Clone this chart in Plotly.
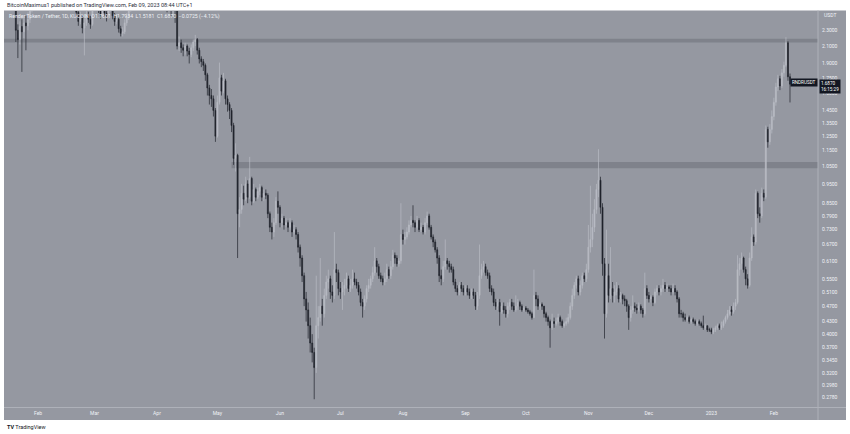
import numpy as np
import pandas as pd
import plotly.graph_objects as go

# ---------------- data (RNDR/USDT, 1D, KuCoin) ----------------
start_date = "2022-01-15"
first_open = 3.50

close = [
    # Jan 15-31 2022
    3.45, 3.40, 3.20, 3.10, 3.00, 2.75, 2.30, 2.18, 2.35, 2.28, 2.40, 2.36, 2.45, 2.62, 2.75, 2.70, 2.85,
    # Feb
    2.95, 2.80, 2.85, 3.05, 3.10, 3.15, 3.25, 3.10, 3.20, 3.05, 2.90, 2.95, 2.88, 3.00, 3.10, 3.00, 2.80, 2.72, 2.75, 2.55,
    2.42, 2.48, 2.33, 2.40, 2.50, 2.45, 2.38, 2.62,
    # Mar
    2.75, 2.68, 2.60, 2.52, 2.58, 2.54, 2.50, 2.60, 2.70, 2.50, 2.42, 2.45, 2.32, 2.26, 2.28, 2.40, 2.48, 2.60, 2.72, 2.65,
    2.78, 2.95, 3.05, 3.15, 3.10, 3.20, 3.35, 3.40, 3.30, 3.25, 3.05,
    # Apr
    3.15, 3.10, 3.20, 3.05, 2.95, 2.70, 2.75, 2.65, 2.70, 2.58, 2.10, 2.14, 2.08, 2.05, 2.10, 2.04, 2.00, 2.08, 2.15, 2.18,
    2.05, 1.95, 1.92, 1.88, 1.78, 1.65, 1.58, 1.55, 1.45, 1.25,
    # May
    1.52, 1.75, 1.62, 1.72, 1.55, 1.50, 1.45, 1.33, 1.10, 1.12, 0.80, 0.82, 0.90, 0.87, 0.95, 0.88, 0.98, 0.86, 0.92, 0.88,
    0.91, 0.93, 0.88, 0.90, 0.89, 0.80, 0.74, 0.72, 0.76, 0.86, 0.83,
    # Jun
    0.76, 0.78, 0.75, 0.76, 0.74, 0.76, 0.72, 0.73, 0.71, 0.66, 0.62, 0.56, 0.49, 0.46, 0.42, 0.38, 0.36, 0.33, 0.42, 0.44,
    0.47, 0.45, 0.50, 0.54, 0.55, 0.51, 0.50, 0.58, 0.57, 0.52,
    # Jul
    0.51, 0.52, 0.53, 0.55, 0.52, 0.53, 0.55, 0.54, 0.53, 0.51, 0.48, 0.47, 0.49, 0.52, 0.53, 0.55, 0.57, 0.61, 0.59, 0.56,
    0.55, 0.54, 0.55, 0.58, 0.56, 0.59, 0.63, 0.62, 0.60, 0.61, 0.71,
    # Aug
    0.69, 0.70, 0.72, 0.75, 0.77, 0.76, 0.74, 0.77, 0.73, 0.74, 0.72, 0.76, 0.79, 0.74, 0.70, 0.68, 0.65, 0.62, 0.56, 0.55,
    0.59, 0.61, 0.60, 0.59, 0.58, 0.54, 0.52, 0.51, 0.53, 0.52, 0.51,
    # Sep
    0.52, 0.51, 0.50, 0.51, 0.50, 0.47, 0.50, 0.56, 0.58, 0.59, 0.57, 0.56, 0.52, 0.51, 0.48, 0.47, 0.48, 0.455, 0.47, 0.46,
    0.45, 0.47, 0.48, 0.47, 0.46, 0.47, 0.48, 0.47, 0.46, 0.465,
    # Oct
    0.46, 0.455, 0.45, 0.44, 0.50, 0.49, 0.47, 0.475, 0.47, 0.45, 0.44, 0.43, 0.415, 0.43, 0.425, 0.43, 0.44, 0.43, 0.42, 0.425,
    0.43, 0.44, 0.47, 0.50, 0.53, 0.55, 0.51, 0.53, 0.56, 0.55, 0.58,
    # Nov
    0.66, 0.69, 0.74, 0.82, 0.92, 0.97, 0.83, 0.60, 0.45, 0.56, 0.50, 0.52, 0.50, 0.51, 0.52, 0.49, 0.50, 0.49, 0.485, 0.47,
    0.44, 0.46, 0.47, 0.465, 0.46, 0.47, 0.46, 0.45, 0.52, 0.50,
    # Dec
    0.49, 0.495, 0.48, 0.51, 0.52, 0.51, 0.52, 0.53, 0.52, 0.525, 0.52, 0.51, 0.52, 0.51, 0.49, 0.45, 0.45, 0.44, 0.435, 0.44,
    0.43, 0.435, 0.43, 0.425, 0.43, 0.425, 0.42, 0.415, 0.42, 0.41, 0.41,
    # Jan 2023
    0.405, 0.41, 0.415, 0.42, 0.415, 0.42, 0.43, 0.44, 0.45, 0.46, 0.455, 0.47, 0.48, 0.58, 0.60, 0.62, 0.58, 0.55, 0.53, 0.62,
    0.70, 0.68, 0.90, 0.80, 0.79, 0.90, 0.88, 1.30, 1.21, 1.30, 1.40,
    # Feb 2023
    1.52, 1.66, 1.74, 1.67, 1.80, 1.88, 2.14, 1.7601, 1.6870,
]

high = [
    3.60, 3.52, 3.44, 3.28, 3.16, 3.05, 2.80, 2.38, 2.42, 2.45, 2.48, 2.50, 2.55, 2.70, 2.82, 2.85, 2.92,
    3.02, 2.98, 2.92, 3.12, 3.20, 3.24, 3.35, 3.30, 3.28, 3.25, 3.08, 3.02, 3.00, 3.06, 3.18, 3.14, 3.02, 2.86, 2.82, 2.78,
    2.60, 2.56, 2.50, 2.46, 2.58, 2.56, 2.50, 2.68,
    2.84, 2.80, 2.72, 2.64, 2.64, 2.62, 2.58, 2.66, 2.76, 2.72, 2.54, 2.50, 2.48, 2.36, 2.34, 2.45, 2.54, 2.66, 2.80, 2.78,
    2.85, 3.02, 3.12, 3.22, 3.22, 3.28, 3.42, 3.50, 3.44, 3.36, 3.28,
    3.20, 3.22, 3.26, 3.22, 3.08, 2.98, 2.82, 2.80, 2.76, 2.74, 2.60, 2.22, 2.18, 2.12, 2.14, 2.12, 2.08, 2.12, 2.18, 2.24,
    2.20, 2.08, 1.98, 1.95, 1.90, 1.80, 1.68, 1.64, 1.58, 1.47,
    1.58, 1.91, 1.78, 1.80, 1.74, 1.58, 1.52, 1.47, 1.35, 1.20, 1.13, 0.88, 0.95, 0.94, 0.99, 0.97, 1.11, 0.99, 0.95, 0.93,
    0.93, 0.95, 0.94, 0.92, 0.92, 0.90, 0.81, 0.76, 0.78, 0.88, 0.91,
    0.84, 0.80, 0.79, 0.78, 0.77, 0.78, 0.77, 0.75, 0.74, 0.72, 0.67, 0.63, 0.57, 0.51, 0.48, 0.44, 0.40, 0.37, 0.56, 0.47,
    0.62, 0.49, 0.52, 0.56, 0.58, 0.56, 0.53, 0.72, 0.60, 0.58,
    0.54, 0.54, 0.55, 0.57, 0.56, 0.55, 0.58, 0.57, 0.55, 0.54, 0.52, 0.49, 0.50, 0.53, 0.55, 0.56, 0.59, 0.66, 0.62, 0.60,
    0.57, 0.56, 0.57, 0.60, 0.59, 0.61, 0.65, 0.64, 0.63, 0.62, 0.85,
    0.73, 0.72, 0.74, 0.77, 0.79, 0.84, 0.77, 0.79, 0.78, 0.76, 0.75, 0.78, 0.81, 0.80, 0.75, 0.71, 0.69, 0.66, 0.63, 0.58,
    0.61, 0.69, 0.62, 0.61, 0.60, 0.59, 0.55, 0.53, 0.54, 0.54, 0.53,
    0.53, 0.53, 0.52, 0.52, 0.52, 0.51, 0.51, 0.67, 0.60, 0.61, 0.60, 0.58, 0.57, 0.53, 0.52, 0.49, 0.49, 0.49, 0.48, 0.48,
    0.47, 0.48, 0.49, 0.49, 0.48, 0.50, 0.49, 0.485, 0.475, 0.47,
    0.47, 0.465, 0.46, 0.455, 0.58, 0.51, 0.50, 0.48, 0.48, 0.47, 0.455, 0.445, 0.435, 0.45, 0.44, 0.44, 0.45, 0.445, 0.435, 0.43,
    0.44, 0.45, 0.48, 0.52, 0.54, 0.56, 0.56, 0.545, 0.57, 0.57, 0.60,
    0.75, 0.94, 0.80, 0.87, 0.95, 1.16, 0.99, 0.85, 0.62, 0.73, 0.60, 0.66, 0.54, 0.53, 0.54, 0.53, 0.51, 0.505, 0.50, 0.49,
    0.475, 0.47, 0.50, 0.48, 0.475, 0.48, 0.475, 0.465, 0.57, 0.53,
    0.51, 0.50, 0.50, 0.52, 0.53, 0.53, 0.53, 0.55, 0.54, 0.535, 0.53, 0.53, 0.535, 0.53, 0.515, 0.495, 0.46, 0.455, 0.45, 0.445,
    0.445, 0.44, 0.44, 0.435, 0.435, 0.435, 0.43, 0.445, 0.425, 0.42, 0.415,
    0.415, 0.415, 0.42, 0.425, 0.425, 0.43, 0.435, 0.445, 0.46, 0.47, 0.47, 0.48, 0.49, 0.63, 0.62, 0.64, 0.625, 0.59, 0.565, 0.64,
    0.74, 0.71, 0.92, 0.91, 0.83, 0.93, 0.92, 1.33, 1.32, 1.34, 1.45,
    1.56, 1.70, 1.78, 1.77, 1.84, 1.92, 2.21, 2.16, 1.7934,
]

low = [
    3.38, 3.32, 3.12, 3.02, 2.92, 2.66, 2.15, 1.96, 2.12, 1.81, 2.20, 2.05, 2.30, 2.40, 2.55, 2.62, 2.64,
    2.80, 2.74, 2.72, 2.82, 3.00, 3.05, 3.10, 3.02, 3.05, 2.98, 2.84, 2.85, 2.80, 2.86, 2.96, 2.92, 2.72, 2.62, 2.66, 2.50,
    2.36, 2.38, 2.26, 1.99, 2.36, 2.40, 2.32, 2.36,
    2.58, 2.62, 2.54, 2.46, 2.48, 2.48, 2.42, 2.46, 2.56, 2.45, 2.36, 2.38, 2.27, 2.22, 2.22, 2.25, 2.36, 2.44, 2.56, 2.60,
    2.62, 2.74, 2.90, 3.00, 3.02, 3.06, 3.16, 3.28, 3.22, 3.18, 3.00,
    3.00, 3.04, 3.05, 2.98, 2.88, 2.55, 2.60, 2.50, 2.48, 2.40, 2.06, 2.04, 2.02, 1.98, 2.00, 1.98, 1.90, 1.97, 2.04, 2.10,
    2.00, 1.90, 1.86, 1.82, 1.72, 1.58, 1.50, 1.48, 1.40, 1.21,
    1.24, 1.50, 1.58, 1.60, 1.50, 1.44, 1.38, 1.28, 1.06, 1.02, 0.62, 0.74, 0.80, 0.84, 0.86, 0.85, 0.87, 0.84, 0.85, 0.86,
    0.87, 0.89, 0.86, 0.86, 0.87, 0.78, 0.72, 0.69, 0.70, 0.75, 0.80,
    0.74, 0.74, 0.73, 0.74, 0.72, 0.73, 0.70, 0.71, 0.69, 0.64, 0.59, 0.54, 0.47, 0.43, 0.39, 0.36, 0.34, 0.275, 0.32, 0.39,
    0.43, 0.42, 0.44, 0.49, 0.52, 0.49, 0.48, 0.49, 0.54, 0.50,
    0.49, 0.46, 0.50, 0.52, 0.51, 0.51, 0.52, 0.53, 0.52, 0.50, 0.47, 0.44, 0.46, 0.48, 0.51, 0.52, 0.54, 0.56, 0.57, 0.55,
    0.54, 0.53, 0.53, 0.54, 0.55, 0.55, 0.58, 0.60, 0.59, 0.59, 0.60,
    0.67, 0.67, 0.69, 0.71, 0.74, 0.74, 0.72, 0.73, 0.72, 0.72, 0.71, 0.71, 0.75, 0.73, 0.69, 0.66, 0.64, 0.60, 0.54, 0.53,
    0.54, 0.58, 0.58, 0.57, 0.57, 0.53, 0.51, 0.50, 0.50, 0.51, 0.50,
    0.50, 0.50, 0.49, 0.49, 0.49, 0.46, 0.46, 0.49, 0.55, 0.57, 0.56, 0.55, 0.51, 0.50, 0.47, 0.46, 0.46, 0.42, 0.45, 0.45,
    0.44, 0.44, 0.46, 0.46, 0.455, 0.455, 0.46, 0.46, 0.455, 0.455,
    0.455, 0.45, 0.445, 0.435, 0.44, 0.47, 0.46, 0.46, 0.46, 0.44, 0.43, 0.42, 0.37, 0.41, 0.415, 0.42, 0.425, 0.42, 0.415, 0.415,
    0.42, 0.425, 0.435, 0.46, 0.49, 0.52, 0.50, 0.50, 0.52, 0.54, 0.54,
    0.57, 0.64, 0.66, 0.72, 0.80, 0.88, 0.80, 0.56, 0.39, 0.44, 0.48, 0.49, 0.48, 0.48, 0.50, 0.48, 0.48, 0.475, 0.47, 0.455,
    0.41, 0.43, 0.45, 0.455, 0.45, 0.455, 0.45, 0.44, 0.445, 0.49,
    0.48, 0.48, 0.47, 0.475, 0.50, 0.50, 0.50, 0.51, 0.51, 0.51, 0.51, 0.50, 0.505, 0.50, 0.48, 0.44, 0.44, 0.43, 0.43, 0.43,
    0.425, 0.425, 0.425, 0.42, 0.42, 0.42, 0.415, 0.41, 0.41, 0.405, 0.405,
    0.40, 0.40, 0.405, 0.41, 0.41, 0.41, 0.415, 0.425, 0.435, 0.445, 0.445, 0.45, 0.46, 0.475, 0.56, 0.58, 0.57, 0.53, 0.52, 0.525,
    0.61, 0.665, 0.67, 0.78, 0.76, 0.78, 0.86, 0.87, 1.17, 1.19, 1.27,
    1.37, 1.49, 1.62, 1.63, 1.65, 1.76, 1.86, 1.72, 1.5181,
]

assert len(close) == len(high) == len(low) == 391, (len(close), len(high), len(low))

# horizontal zones
resistance_zone = (2.145, 2.19)
support_zone = (1.04, 1.078)
support_start = "2022-05-08"

price_ticks = [2.3, 2.1, 1.9, 1.75, 1.6, 1.45, 1.35, 1.25, 1.15, 1.05, 0.95, 0.85, 0.79, 0.73,
               0.67, 0.61, 0.55, 0.51, 0.47, 0.43, 0.40, 0.37, 0.345, 0.32, 0.298, 0.278]
month_ticks = ["2022-02-01", "2022-03-01", "2022-04-01", "2022-05-01", "2022-06-01", "2022-07-01",
               "2022-08-01", "2022-09-01", "2022-10-01", "2022-11-01", "2022-12-01", "2023-01-01", "2023-02-01"]
month_labels = ["Feb", "Mar", "Apr", "May", "Jun", "Jul", "Aug", "Sep", "Oct", "Nov", "Dec", "2023", "Feb"]

header_text = "BitcoinMaximus1 published on TradingView.com, Feb 09, 2023 08:44 UTC+1"
legend_text = "Render Token / Tether, 1D, KUCOIN  O1.7601  H1.7934  L1.5181  C1.6870  −0.0725 (−4.12%)"
last_price_text = "1.6870"
countdown_text = "16:15:29"

# ---------------- figure ----------------
dates = pd.date_range(start_date, periods=len(close), freq="D")
opens = [first_open] + close[:-1]

BG = "#9598a1"
UP = "#b9bcc4"
DOWN = "#1f222b"
BAND = "#7f828b"
SEP = "#aeb1b9"
FONT = "Roboto"

W, H = 850, 434
ML, MR, MT, MB = 4, 32, 11, 27
PW, PH = W - ML - MR, H - MT - MB

def px_x(px):
    return (px - ML) / PW

def px_y(py):
    return 1 - (py - MT) / PH

fig = go.Figure()
fig.add_trace(go.Candlestick(
    x=dates, open=opens, high=high, low=low, close=close,
    increasing=dict(line=dict(color=UP, width=0.7), fillcolor=UP),
    decreasing=dict(line=dict(color=DOWN, width=0.7), fillcolor=DOWN),
    whiskerwidth=0, hoverinfo="skip",
))

shapes = []
# chart frame background (incl. axis strips)
shapes.append(dict(type="rect", xref="paper", yref="paper", x0=px_x(4), x1=px_x(846),
                   y0=px_y(420), y1=px_y(10.5), fillcolor=BG, line_width=0, layer="below"))
# separators
shapes.append(dict(type="line", xref="paper", yref="paper", x0=px_x(4), x1=px_x(846),
                   y0=px_y(407.5), y1=px_y(407.5), line=dict(color=SEP, width=1)))
shapes.append(dict(type="line", xref="paper", yref="paper", x0=1, x1=1,
                   y0=px_y(420), y1=px_y(10.5), line=dict(color=SEP, width=1)))
# zones
shapes.append(dict(type="rect", xref="paper", yref="y", x0=0, x1=1,
                   y0=resistance_zone[0], y1=resistance_zone[1],
                   fillcolor=BAND, line_width=0, layer="below"))
shapes.append(dict(type="rect", xref="x", yref="y", x0=support_start, x1="2023-02-22 21:30",
                   y0=support_zone[0], y1=support_zone[1],
                   fillcolor=BAND, line_width=0, layer="below"))

annotations = [
    dict(text=header_text, xref="paper", yref="paper", x=px_x(5), y=px_y(5), xanchor="left",
         yanchor="middle", showarrow=False, font=dict(family=FONT, size=5.5, color="#2a2e39")),
    dict(text=legend_text, xref="paper", yref="paper", x=px_x(7), y=px_y(16.5), xanchor="left",
         yanchor="middle", showarrow=False, font=dict(family=FONT, size=5.2, color="#f0f2f6")),
    dict(text="USDT", xref="paper", yref="paper", x=px_x(822), y=px_y(15), xanchor="left",
         yanchor="middle", showarrow=False, font=dict(family=FONT, size=5, color="#f0f2f6")),
    dict(text="RNDRUSDT", xref="paper", yref="y", x=1, y=np.log10(close[-1]) + 0.004, xanchor="right",
         yanchor="middle", showarrow=False, bgcolor="#131722", borderpad=1,
         font=dict(family=FONT, size=4.6, color="#ffffff")),
    dict(text=last_price_text + "<br>" + countdown_text, xref="paper", yref="y", x=1.001,
         y=np.log10(close[-1]) - 0.006, xanchor="left", yanchor="middle", showarrow=False,
         bgcolor="#131722", borderpad=1, align="left",
         font=dict(family=FONT, size=4.6, color="#ffffff")),
    dict(text="<b>TV</b> TradingView", xref="paper", yref="paper", x=px_x(5), y=px_y(427),
         xanchor="left", yanchor="middle", showarrow=False,
         font=dict(family=FONT, size=5.5, color="#131722")),
]

fig.update_layout(
    width=W, height=H,
    margin=dict(l=ML, r=MR, t=MT, b=MB, pad=0),
    paper_bgcolor="#ffffff", plot_bgcolor=BG,
    showlegend=False, hovermode=False, dragmode=False,
    shapes=shapes, annotations=annotations,
    xaxis=dict(type="date", range=["2022-01-15 03:00", "2023-02-22 21:30"],
               rangeslider=dict(visible=False), showgrid=False, zeroline=False,
               showline=False, ticks="", tickvals=month_ticks, ticktext=month_labels,
               tickfont=dict(family=FONT, size=5, color="#f0f2f6"), ticklabelstandoff=2),
    yaxis=dict(type="log", side="right", range=[np.log10(0.263), np.log10(2.57)],
               showgrid=False, zeroline=False, showline=False, ticks="",
               tickvals=price_ticks, ticktext=[f"{v:.4f}" for v in price_ticks],
               tickfont=dict(family=FONT, size=5, color="#f0f2f6"), ticklabelstandoff=3),
)

fig.write_html("out.html", config={"displayModeBar": False, "staticPlot": True},
               post_script="document.body.style.margin='0px';document.body.style.overflow='hidden';")
